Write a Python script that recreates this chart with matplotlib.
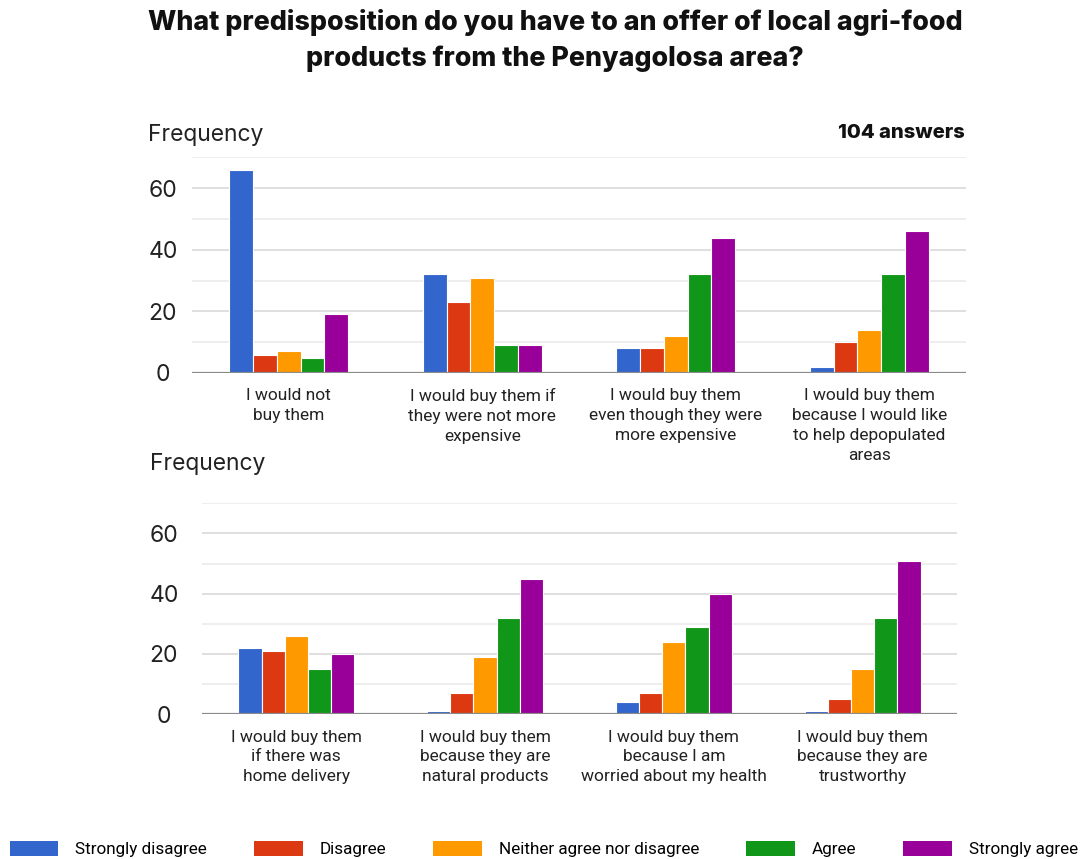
import matplotlib
matplotlib.use('Agg')
import matplotlib.pyplot as plt
from matplotlib.patches import Patch
import numpy as np

# Ответы по шкале согласия (5 вариантов) для каждого утверждения
levels = ['Strongly disagree', 'Disagree', 'Neither agree nor disagree', 'Agree', 'Strongly agree']
colors = ['#3366cc', '#dc3912', '#ff9900', '#109618', '#990099']

top_labels = [
    'I would not\nbuy them',
    'I would buy them if\nthey were not more\nexpensive',
    'I would buy them\neven though they were\nmore expensive',
    'I would buy them\nbecause I would like\nto help depopulated\nareas',
]
top_values = [
    [66, 6, 7, 5, 19],
    [32, 23, 31, 9, 9],
    [8, 8, 12, 32, 44],
    [2, 10, 14, 32, 46],
]

bottom_labels = [
    'I would buy them\nif there was\nhome delivery',
    'I would buy them\nbecause they are\nnatural products',
    'I would buy them\nbecause I am\nworried about my health',
    'I would buy them\nbecause they are\ntrustworthy',
]
bottom_values = [
    [22, 21, 26, 15, 20],
    [1, 7, 19, 32, 45],
    [4, 7, 24, 29, 40],
    [1, 5, 15, 32, 51],
]

title = 'What predisposition do you have to an offer of local agri-food\nproducts from the Penyagolosa area?'
n_answers = '104 answers'

HEAD_FONT = 'Inter'
TEXT_FONT = 'Roboto'
BAR_W = 0.123


def draw_panel(ax, labels, values, tick_pad):
    """Рисует сгруппированные столбцы для одной панели"""
    data = np.array(values)
    x = np.arange(len(labels))
    for j in range(data.shape[1]):
        ax.bar(x + (j - 2) * BAR_W, data[:, j], width=BAR_W, color=colors[j],
               edgecolor='white', linewidth=0.8, zorder=3)

    ax.set_xlim(-0.5, len(labels) - 0.5)
    ax.set_ylim(0, 70)

    # Сетка: основные линии через 20, дополнительные через 10
    for y in range(10, 71, 10):
        col = '#d6d6d6' if y % 20 == 0 else '#e9e9e9'
        ax.axhline(y, color=col, linewidth=1.1, zorder=1)
    ax.axhline(0, color='#8a8a8a', linewidth=1.6, zorder=4)

    ax.set_yticks([0, 20, 40, 60])
    ax.set_yticklabels(['0', '20', '40', '60'], fontsize=16.5, family=HEAD_FONT,
                       color='#222222', ha='center')
    ax.tick_params(axis='y', length=0, pad=tick_pad)

    ax.set_xticks(x)
    ax.set_xticklabels(labels, fontsize=12.5, family=TEXT_FONT, color='#222222',
                       linespacing=1.4, va='top')
    ax.tick_params(axis='x', length=0, pad=11)

    for side in ax.spines.values():
        side.set_visible(False)


fig = plt.figure(figsize=(10.83, 8.59), dpi=100)

ax_top = fig.add_axes([0.1773, 0.5658, 0.7147, 0.2509])
ax_bot = fig.add_axes([0.1865, 0.1685, 0.6971, 0.2456])

draw_panel(ax_top, top_labels, top_values, 20.9)
draw_panel(ax_bot, bottom_labels, bottom_values, 27.4)

fig.text(0.5125, 0.99, title, ha='center', va='top', fontsize=19.3,
         fontweight='heavy', family=HEAD_FONT, linespacing=1.5, color='#111111')

fig.text(148 / 1083, 1 - 135 / 859, 'Frequency', ha='left', va='center',
         fontsize=16.5, family=HEAD_FONT, color='#222222')
fig.text(150 / 1083, 1 - 464 / 859, 'Frequency', ha='left', va='center',
         fontsize=16.5, family=HEAD_FONT, color='#222222')
fig.text(965 / 1083, 1 - 133 / 859, n_answers, ha='right', va='center',
         fontsize=14.5, fontweight='heavy', family=HEAD_FONT, color='#111111')

handles = [Patch(facecolor=c, edgecolor='none') for c in colors]
fig.legend(handles, levels, loc='lower left', ncol=5, mode='expand',
           bbox_to_anchor=(8 / 1083, 0.0, 1072 / 1083, 0.04),
           frameon=False, prop={'family': TEXT_FONT, 'size': 12.3},
           handlelength=2.85, handleheight=1.05, handletextpad=1.0,
           borderpad=0.1, borderaxespad=0.0)

fig.savefig('out.png', dpi=100, facecolor='white')
